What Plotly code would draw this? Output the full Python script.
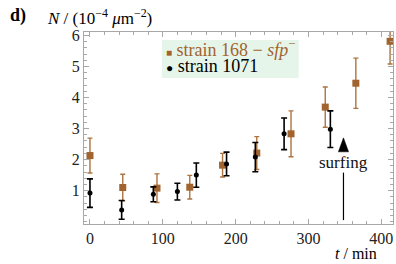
import plotly.graph_objects as go

# ---- data ----
t_168 = [0, 45, 92, 137, 182, 229, 276, 323, 365, 412]
n_168 = [2.13, 1.10, 1.08, 1.11, 1.82, 2.21, 2.83, 3.69, 4.46, 5.81]
e_168 = [0.56, 0.43, 0.46, 0.38, 0.38, 0.53, 0.74, 0.65, 0.81, 0.73]

t_1071 = [0, 43.5, 87, 120, 146, 187.5, 227, 266.5, 330]
n_1071 = [0.92, 0.38, 0.88, 0.97, 1.50, 1.86, 2.08, 2.83, 2.98]
e_1071 = [0.46, 0.30, 0.24, 0.27, 0.39, 0.38, 0.47, 0.51, 0.59]

x_ticks = [0, 100, 200, 300, 400]
y_ticks = [1, 2, 3, 4, 5, 6]

surf_t = 348
surf_line = [0.05, 1.58]
surf_tri = [2.25, 2.70]
surf_text_y = 1.92

BROWN = "#a2642e"
FONT = "Liberation Serif"

fig = go.Figure()
fig.add_trace(go.Scatter(
    x=t_168, y=n_168, mode="markers",
    marker=dict(symbol="square", size=7, color=BROWN),
    error_y=dict(type="data", array=e_168, color="#ad7440", thickness=1.4, width=2.5),
    showlegend=False))
fig.add_trace(go.Scatter(
    x=t_1071, y=n_1071, mode="markers",
    marker=dict(symbol="circle", size=5, color="black"),
    error_y=dict(type="data", array=e_1071, color="black", thickness=1.6, width=3),
    showlegend=False))

axis_common = dict(
    showline=True, linecolor="#a8a8a8", linewidth=1.3, mirror="allticks",
    ticks="inside", ticklen=4.5, tickcolor="#a8a8a8", tickwidth=1,
    showgrid=False, zeroline=False,
    tickfont=dict(family=FONT, size=16, color="#222"),
)
fig.update_xaxes(range=[-8.2, 416], tickvals=x_ticks,
                 minor=dict(dtick=20, tick0=0, ticks="inside", ticklen=2.5,
                            tickcolor="#a8a8a8", showgrid=False),
                 **axis_common)
fig.update_yaxes(range=[-0.075, 6.11], tickvals=y_ticks,
                 minor=dict(dtick=0.2, tick0=0, ticks="inside", ticklen=2.5,
                            tickcolor="#a8a8a8", showgrid=False),
                 **axis_common)

# surfing marker
fig.add_shape(type="line", x0=surf_t, x1=surf_t, y0=surf_line[0], y1=surf_line[1],
              xref="x", yref="y", line=dict(color="black", width=1.2))
fig.add_shape(type="path", xref="x", yref="y",
              path=f"M {surf_t-7},{surf_tri[0]} L {surf_t+7},{surf_tri[0]} L {surf_t},{surf_tri[1]} Z",
              fillcolor="black", line=dict(color="black", width=0.5))
fig.add_annotation(x=surf_t, y=surf_text_y, xref="x", yref="y", text="surfing",
                   showarrow=False, font=dict(family=FONT, size=17, color="#111"))

# legend box
fig.add_shape(type="rect", xref="paper", yref="paper", x0=0.252, x1=0.695, y0=0.760, y1=0.958,
              fillcolor="#e6f5ea", line=dict(width=0), layer="below")
fig.add_annotation(xref="paper", yref="paper", x=0.258, y=0.912, xanchor="left", yanchor="middle",
                   showarrow=False,
                   text=f'<span style="font-size:10px">■</span> strain 168 − <i>sfp</i><sup>−</sup>',
                   font=dict(family=FONT, size=18, color=BROWN))
fig.add_annotation(xref="paper", yref="paper", x=0.258, y=0.821, xanchor="left", yanchor="middle",
                   showarrow=False,
                   text='<span style="font-size:12px">●</span> strain 1071',
                   font=dict(family=FONT, size=18, color="black"))

# titles
fig.add_annotation(xref="paper", yref="paper", x=-0.245, y=1.085, xanchor="left", yanchor="middle",
                   showarrow=False, text="<b>d)</b>",
                   font=dict(family=FONT, size=18, color="black"))
fig.add_annotation(xref="paper", yref="paper", x=-0.125, y=1.08, xanchor="left", yanchor="middle",
                   showarrow=False, text="<i>N</i> / (10<sup>−4</sup> <i>μ</i>m<sup>−2</sup>)",
                   font=dict(family=FONT, size=17, color="black"))
fig.add_annotation(xref="paper", yref="paper", x=0.880, y=-0.155, xanchor="center", yanchor="middle",
                   showarrow=False, text="<i>t</i> / min",
                   font=dict(family=FONT, size=16, color="black"))

fig.update_layout(
    width=396, height=264,
    margin=dict(l=84, r=3, t=32, b=40),
    paper_bgcolor="white", plot_bgcolor="white",
    showlegend=False,
)
fig.write_html("out.html", config={"displayModeBar": False},
               post_script="document.body.style.margin='0';document.body.style.overflow='hidden';")
